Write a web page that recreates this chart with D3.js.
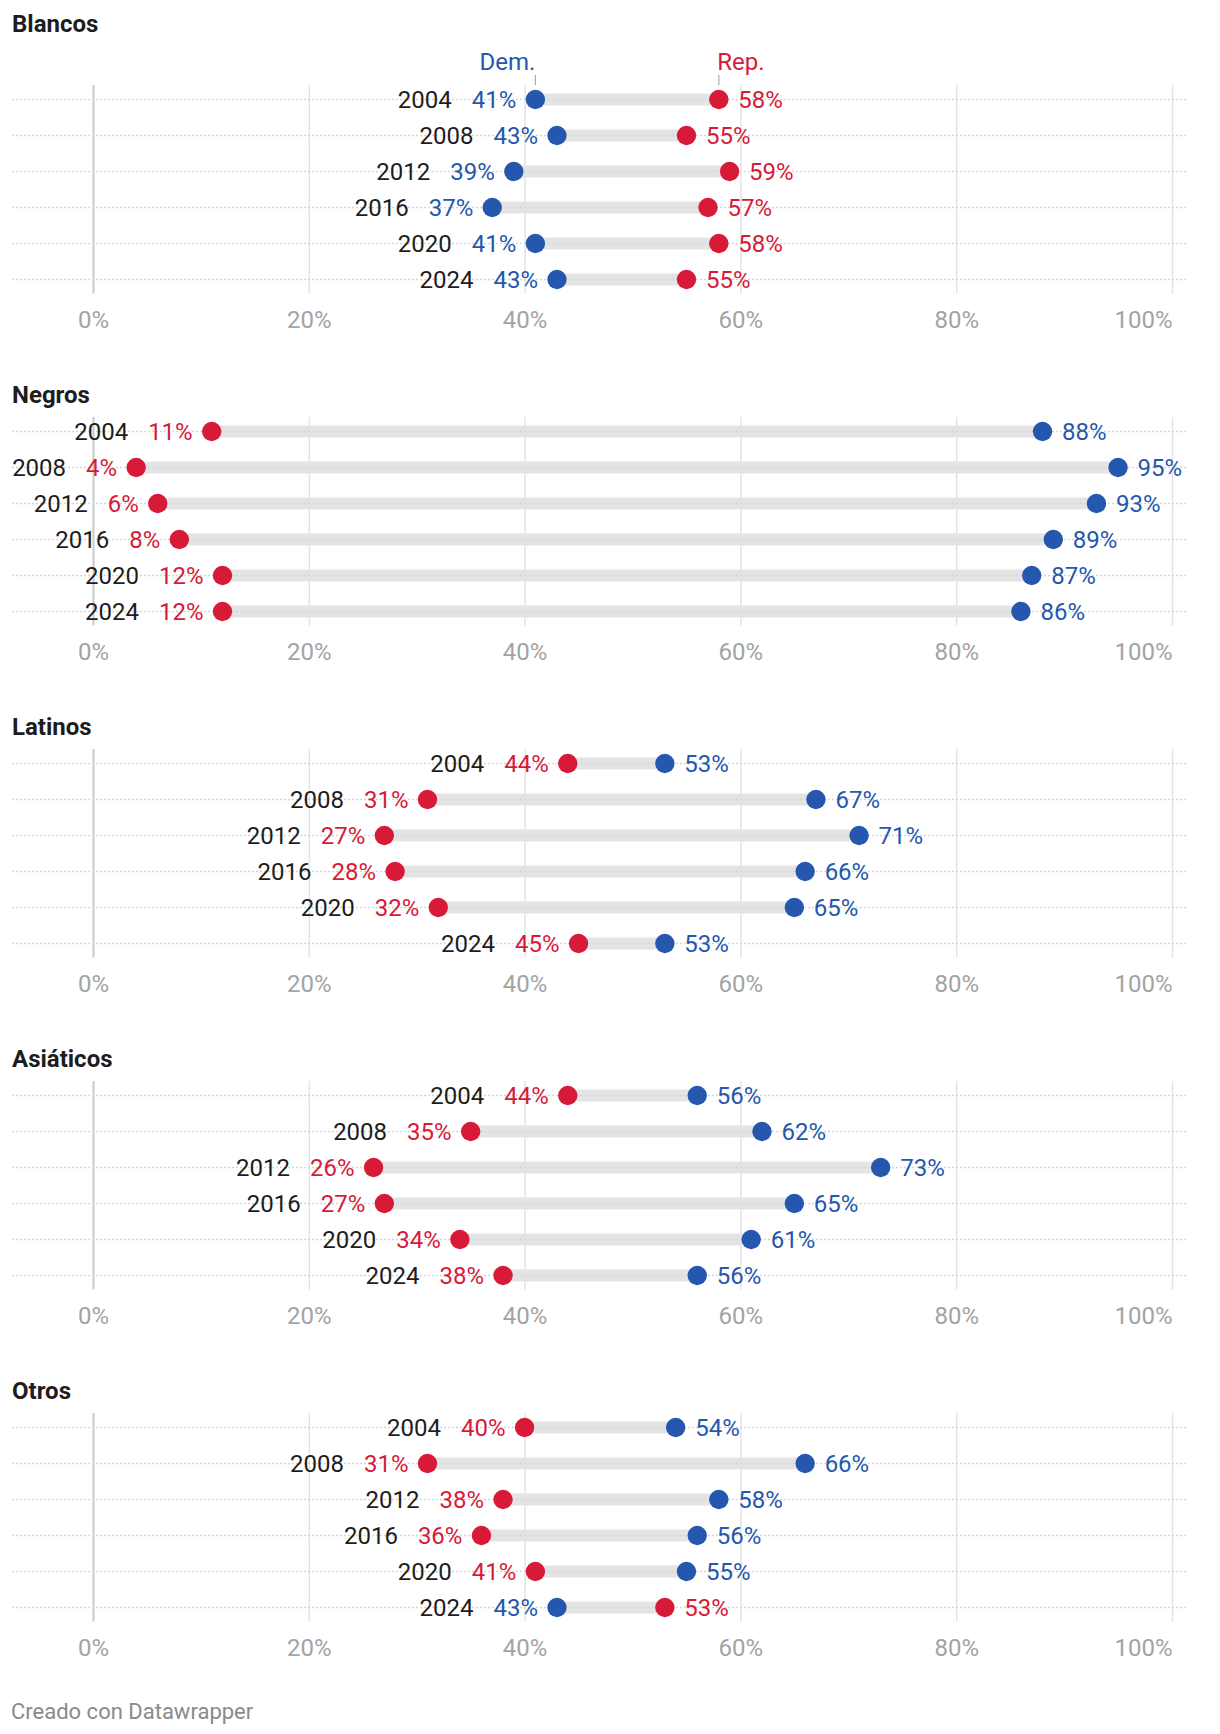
<!DOCTYPE html>
<html>
<head>
<meta charset="utf-8">
<script src="https://cdn.jsdelivr.net/npm/d3@7"></script>
<style>
  html, body { margin: 0; padding: 0; background: #fff; }
  svg { display: block; font-family: Roboto, "Noto Sans", sans-serif; }
</style>
</head>
<body>
<svg id="chart" width="1220" height="1734"></svg>
<script>
// ---- data ----
const groups = ["Blancos", "Negros", "Latinos", "Asiáticos", "Otros"];
const years = ["2004", "2008", "2012", "2016", "2020", "2024"];
const demBlancos   = [41, 43, 39, 37, 41, 43];
const repBlancos   = [58, 55, 59, 57, 58, 55];
const demNegros    = [88, 95, 93, 89, 87, 86];
const repNegros    = [11, 4, 6, 8, 12, 12];
const demLatinos   = [53, 67, 71, 66, 65, 53];
const repLatinos   = [44, 31, 27, 28, 32, 45];
const demAsiaticos = [56, 62, 73, 65, 61, 56];
const repAsiaticos = [44, 35, 26, 27, 34, 38];
const demOtros     = [54, 66, 58, 56, 55, 43];
const repOtros     = [40, 31, 38, 36, 41, 53];
const tickValues = [0, 20, 40, 60, 80, 100];
const legendLabels = ["Dem.", "Rep."];
const footerText = "Creado con Datawrapper";

const demSeries = [demBlancos, demNegros, demLatinos, demAsiaticos, demOtros];
const repSeries = [repBlancos, repNegros, repLatinos, repAsiaticos, repOtros];

// ---- styles ----
const BLUE = "#2457ad", RED = "#d71a37";
const FS = 24;
const R = 9.7;
const rowStep = 36;
const firstRow0 = 99.5;
const sectionStep = 332;

const svg = d3.select("#chart");
const x = d3.scaleLinear().domain([0, 100]).range([93, 1172]);

groups.forEach((name, gi) => {
  const dem = demSeries[gi], rep = repSeries[gi];
  const row1 = firstRow0 + gi * sectionStep;
  const y = d3.scalePoint().domain(years).range([row1, row1 + rowStep * (years.length - 1)]);
  const lastRow = y(years[years.length - 1]);
  const g = svg.append("g");

  // title
  g.append("text")
    .attr("x", 12)
    .attr("y", gi === 0 ? 32.3 : row1 - 28.8)
    .attr("font-size", 24).attr("font-weight", 700).attr("fill", "#1d1d1d")
    .text(name);

  // bars (range)
  g.selectAll(".bar").data(years).enter().append("line")
    .attr("x1", (d, i) => x(Math.min(dem[i], rep[i])))
    .attr("x2", (d, i) => x(Math.max(dem[i], rep[i])))
    .attr("y1", d => y(d)).attr("y2", d => y(d))
    .attr("stroke", "#e4e4e4").attr("stroke-width", 12);

  // axis with gridlines
  const gridTop = row1 - 14.5, gridBottom = lastRow + 14;
  const axis = d3.axisBottom(x).tickValues(tickValues).tickFormat(d => d + "%")
    .tickSize(-(gridBottom - gridTop));
  const ag = g.append("g").attr("transform", `translate(0,${gridBottom})`).call(axis);
  ag.select(".domain").remove();
  ag.selectAll(".tick line")
    .attr("stroke", d => d === 0 ? "#c9c9c9" : "#e4e4e4")
    .attr("stroke-width", d => d === 0 ? 2 : 1.5);
  ag.selectAll(".tick text")
    .attr("y", lastRow + 48.8 - gridBottom).attr("dy", null)
    .attr("font-size", FS).attr("fill", "#a3a3a3")
    .attr("font-family", "Roboto")
    .attr("text-anchor", d => d === 100 ? "end" : "middle");

  // dotted row lines
  g.selectAll(".rowline").data(years).enter().append("line")
    .attr("x1", 12).attr("x2", 1186)
    .attr("y1", d => y(d)).attr("y2", d => y(d))
    .attr("stroke", "#d6d6d6").attr("stroke-width", 1.6)
    .attr("stroke-dasharray", "2,2");

  // dots
  g.selectAll(".dem").data(years).enter().append("circle")
    .attr("cx", (d, i) => x(dem[i])).attr("cy", d => y(d)).attr("r", R).attr("fill", BLUE);
  g.selectAll(".rep").data(years).enter().append("circle")
    .attr("cx", (d, i) => x(rep[i])).attr("cy", d => y(d)).attr("r", R).attr("fill", RED);

  // labels
  years.forEach((yr, i) => {
    const cy = y(yr) + 8.5;
    const demLow = dem[i] < rep[i];
    const lowV = demLow ? dem[i] : rep[i];
    const highV = demLow ? rep[i] : dem[i];
    const lowC = demLow ? BLUE : RED;
    const highC = demLow ? RED : BLUE;
    const lowEnd = x(lowV) - 19;
    const lt = g.append("text")
      .attr("x", lowEnd).attr("y", cy).attr("text-anchor", "end")
      .attr("font-size", FS).attr("fill", lowC).text(lowV + "%");
    const w = lt.node().getComputedTextLength();
    g.append("text")
      .attr("x", lowEnd - w - 20).attr("y", cy).attr("text-anchor", "end")
      .attr("font-size", FS).attr("fill", "#1d1d1d").text(yr);
    g.append("text")
      .attr("x", x(highV) + 19.5).attr("y", cy).attr("text-anchor", "start")
      .attr("font-size", FS).attr("fill", highC).text(highV + "%");
  });

  // header legend on first group
  if (gi === 0) {
    const dx = x(dem[0]), rx = x(rep[0]);
    g.append("line").attr("x1", dx).attr("x2", dx).attr("y1", 75).attr("y2", 85)
      .attr("stroke", "#aaa").attr("stroke-width", 1.2);
    g.append("line").attr("x1", rx).attr("x2", rx).attr("y1", 75).attr("y2", 85)
      .attr("stroke", "#aaa").attr("stroke-width", 1.2);
    g.append("text").attr("x", dx).attr("y", 70).attr("text-anchor", "end")
      .attr("font-size", FS).attr("fill", BLUE).text(legendLabels[0]);
    g.append("text").attr("x", rx - 1.5).attr("y", 70).attr("text-anchor", "start")
      .attr("font-size", FS).attr("fill", RED).text(legendLabels[1]);
  }
});

// footer
svg.append("text").attr("x", 11).attr("y", 1719)
  .attr("font-size", 22).attr("fill", "#8a8a8a").text(footerText);
</script>
</body>
</html>
